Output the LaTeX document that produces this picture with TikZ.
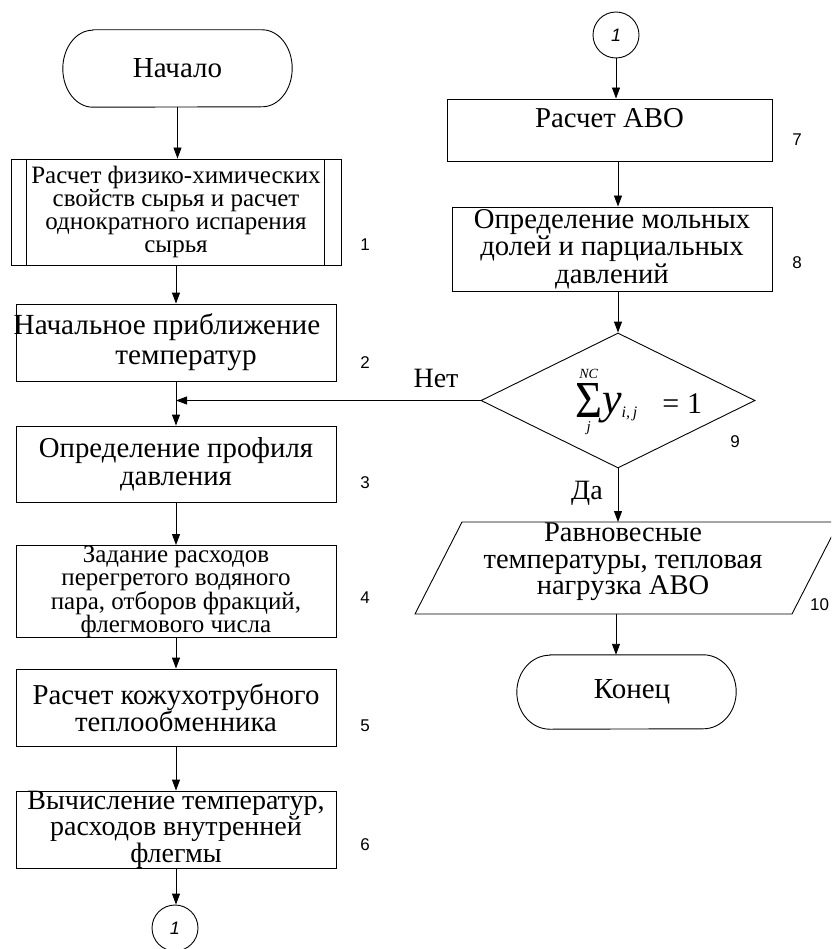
\documentclass[tikz,border=0pt]{standalone}
\usepackage{amsmath}
\usepackage{graphicx}
\usepackage{fontspec}
\setmainfont{Liberation Serif}
\newfontfamily\arialf{Liberation Sans}
\usetikzlibrary{arrows.meta,shapes.geometric}
\newcommand{\fs}[2]{\fontsize{#1}{#2}\selectfont}
\tikzset{
  box/.style={draw, line width=0.9pt, minimum width=320pt, inner sep=0pt, align=center},
  arr/.style={-{Triangle[length=11pt,width=8pt]}, line width=0.9pt},
  ln/.style={line width=0.9pt},
  num/.style={font=\arialf\fs{17}{17}, inner sep=0pt},
  conn/.style={draw, circle, minimum size=46pt, inner sep=0pt, line width=0.9pt, font=\arialf\itshape\fs{18}{18}},
  lbl/.style={font=\fs{29}{29}, inner sep=0pt},
}
\begin{document}
\begin{tikzpicture}[x=1pt,y=-1pt]
\clip (0,0) rectangle (831,949);
\fill[white] (0,0) rectangle (831,949);

% ---------- left column ----------
\node[lbl, minimum width=229pt, minimum height=77pt] (start) at (177.5,68.5) {Начало};
\draw[ln] ([xshift=30pt]start.north west) -- ([xshift=-30pt]start.north east)
  arc[start angle=90,end angle=-90,x radius=30pt,y radius=38.5pt]
  -- ([xshift=30pt]start.south west)
  arc[start angle=270,end angle=90,x radius=30pt,y radius=38.5pt] -- cycle;

\node[box, minimum width=330pt, minimum height=106pt, font=\fs{25}{23}] (b1) at (176,212)
  {Расчет физико-химических\\свойств сырья и расчет\\однократного испарения\\сырья};
\draw[ln] ([xshift=16pt]b1.north west) -- ([xshift=16pt]b1.south west);
\draw[ln] ([xshift=-17pt]b1.north east) -- ([xshift=-17pt]b1.south east);

\node[box, minimum height=77pt, font=\fs{29.2}{30}] (b2) at (176,342.5)
  {\hspace*{-18pt}Начальное приближение\\\hspace*{20pt}температур};
\node[box, minimum height=76pt, font=\fs{28.8}{28}] (b3) at (176,464)
  {Определение профиля\\давления};
\node[box, minimum height=91pt, font=\fs{25}{23}] (b4) at (176,591.5)
  {Задание расходов\\перегретого водяного\\пара, отборов фракций,\\флегмового числа};
\node[box, minimum height=77pt, font=\fs{28.8}{27}] (b5) at (176,707.5)
  {Расчет кожухотрубного\\теплообменника};
\node[box, minimum height=75pt, font=\fs{28}{25}] (b6) at (176,829.5)
  {Вычисление температур,\\расходов внутренней\\флегмы};
\node[conn] (c1) at (175,928) {1};

\node[num] (n1) at (365,245) {1};
\node[num] (n2) at (365,363) {2};
\node[num] (n3) at (365,483) {3};
\node[num] (n4) at (365,598) {4};
\node[num] (n5) at (365,726) {5};
\node[num] (n6) at (365,845) {6};

\draw[arr] (start.south) -- (start.south |- b1.north);
\draw[arr] (b1.south) -- (b2.north);
\draw[arr] (b2.south) -- (b3.north);
\draw[arr] (b3.south) -- (b4.north);
\draw[arr] (b4.south) -- (b5.north);
\draw[arr] (b5.south) -- (b6.north);
\draw[arr] (b6.south) -- (b6.south |- c1.north);

% ---------- right column ----------
\node[conn] (c2) at (616,35) {1};
\node[box, minimum width=325pt, minimum height=62pt, font=\fs{28.8}{18}] (b7) at (609.5,130)
  {Расчет АВО\\\strut};
\node[box, minimum height=84pt, font=\fs{28.7}{27.5}] (b8) at (612,249)
  {Определение мольных\\долей и парциальных\\давлений};
\node[draw, diamond, line width=0.9pt, minimum width=274pt, minimum height=135pt, inner sep=0pt] (d) at (618,400.5) {};
\node[inner sep=0pt, anchor=base west] (f) at (575,413)
  {\fs{30}{30}$\mathop{\raisebox{-4pt}{\resizebox*{27pt}{34pt}{Σ}}}\limits_{\raisebox{0pt}[15pt][\depth]{\fs{15}{15}\itshape j}}^{\raisebox{0pt}[\height][4pt]{\fs{14}{14}\itshape NC}}\mkern-3mu\hbox{\fs{44}{44}\itshape y}\raisebox{-4pt}{\fs{16}{16}\itshape i,\,j}\hspace{25pt}\hbox{=\hspace{8pt}1}$};

\draw[ln] (415,614) -- (462,522) -- (839,522) -- (792,614) -- cycle;
\coordinate (p10top) at (618,522);
\coordinate (p10bot) at (616,614);
\node[align=center, inner sep=0pt, font=\fs{28.5}{26.5}] (p10) at (623,562)
  {Равновесные\\температуры, тепловая\\нагрузка АВО};

\node[lbl, minimum width=219pt, minimum height=74pt] (stop) at (626.5,692) {\hspace*{11pt}Конец};
\draw[ln] ([xshift=33pt]stop.north west) -- ([xshift=-33pt]stop.north east)
  arc[start angle=90,end angle=-90,x radius=33pt,y radius=37pt]
  -- ([xshift=33pt]stop.south west)
  arc[start angle=270,end angle=90,x radius=33pt,y radius=37pt] -- cycle;

\node[num] (n7) at (797,140) {7};
\node[num] (n8) at (797,263) {8};
\node[num] (n9) at (735,442) {9};
\node[num, anchor=west] (n10) at (810,605) {10};

\node[lbl, font=\fs{28}{28}] (net) at (436,378) {Нет};
\node[lbl, font=\fs{28}{28}] (da) at (587,493) {Да};

\draw[arr] (c2.south) -- (c2.south |- b7.north);
\draw[arr] (b7.south -| d.north) -- (b8.north -| d.north);
\draw[arr] (b8.south -| d.north) -- (d.north);
\draw[arr] (d.south) -- (p10top);
\draw[arr] (p10bot) -- (p10bot |- stop.north);
\draw[arr] (d.west) -- (d.west -| b2.south);
\end{tikzpicture}
\end{document}
